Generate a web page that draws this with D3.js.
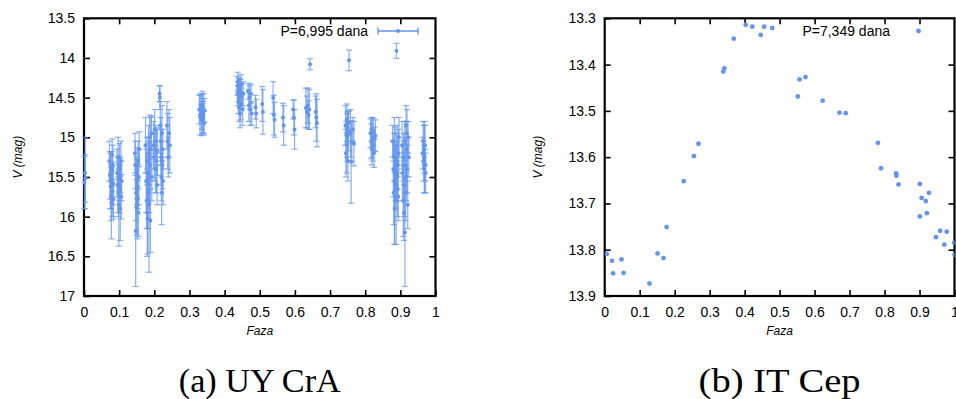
<!DOCTYPE html>
<html><head><meta charset="utf-8">
<script src="https://cdn.jsdelivr.net/npm/d3@7"></script>
<style>
html,body{margin:0;padding:0;background:#fff;}
svg{display:block;}
text{fill:#000;}
</style></head>
<body><svg id="c" width="956" height="399"></svg>
<script>
// ---------- Data: UY CrA (phase, V mag, error) ----------
const uyPhase = [
0.001,0.003,0.004,
0.072,0.074,0.075,0.076,0.077,0.078,0.079,0.080,0.081,0.082,0.083,0.084,
0.094,0.096,0.097,0.098,0.099,0.100,0.101,0.102,0.103,0.104,0.105,0.106,0.107,
0.145,0.146,0.147,0.148,0.149,0.150,0.151,0.152,0.153,0.154,0.155,0.156,0.157,
0.175,0.177,0.178,0.179,0.180,0.181,0.182,0.183,0.184,0.185,0.186,0.187,0.188,0.189,0.190,0.192,0.193,
0.198,0.200,0.201,0.203,0.204,0.206,0.208,0.209,
0.215,0.216,0.217,0.218,0.219,0.220,0.221,0.222,0.223,0.224,0.225,
0.236,0.238,0.240,0.242,0.244,
0.328,0.330,0.332,0.334,0.335,0.337,0.338,0.340,0.342,0.343,
0.436,0.437,0.438,0.439,0.440,0.441,0.442,0.443,0.444,0.445,0.446,0.447,0.449,0.451,0.453,
0.467,0.469,0.471,0.473,0.475,0.477,
0.488,0.490,
0.507,0.509,
0.538,0.540,0.542,
0.566,0.568,
0.595,0.597,0.599,
0.631,0.634,0.637,0.639,0.641,0.643,
0.659,0.661,0.663,
0.744,0.745,0.746,0.747,0.748,0.749,0.750,0.751,0.752,0.753,0.754,
0.758,0.760,0.762,0.765,0.768,
0.815,0.817,0.818,0.819,0.820,0.822,0.823,0.825,0.827,0.829,
0.878,0.880,0.881,0.882,0.883,0.884,0.885,0.886,0.887,0.888,0.889,0.889,0.890,0.891,0.892,0.893,0.894,0.895,0.896,
0.905,0.906,0.908,0.909,0.910,0.911,0.912,0.913,0.914,0.915,0.916,0.917,0.918,0.919,0.920,0.921,0.922,0.924,
0.963,0.965,0.966,0.967,0.968,0.969,0.970,0.971,0.972
];
const uyMag = [
15.57,15.45,15.52,
15.30,15.48,15.55,15.62,15.75,15.83,15.40,15.22,15.68,15.35,15.58,15.78,
15.45,15.60,15.25,15.70,15.85,15.52,15.38,15.65,15.90,15.48,15.30,15.75,15.55,
15.20,15.35,16.18,15.70,15.88,15.55,15.45,15.78,15.62,15.30,15.95,15.50,15.15,
15.10,15.55,15.80,15.30,15.95,16.02,15.70,15.20,15.45,15.85,15.60,15.00,15.35,16.05,15.15,14.95,15.50,
15.10,15.25,14.90,15.40,15.05,15.30,15.60,15.18,
14.45,14.50,14.85,15.05,15.25,15.50,15.70,14.95,15.35,15.15,15.55,
14.85,15.05,15.25,14.95,15.10,
14.65,14.72,14.60,14.78,14.68,14.62,14.75,14.70,14.82,14.66,
14.35,14.45,14.30,14.55,14.40,14.62,14.38,14.50,14.70,14.42,14.58,14.33,14.48,14.65,14.45,
14.42,14.60,14.50,14.65,14.45,14.70,
14.62,14.70,
14.58,14.68,
14.50,14.72,14.78,
14.75,14.85,
14.65,14.75,14.90,
14.63,14.68,14.60,14.72,14.65,14.08,
14.68,14.75,14.82,
14.85,15.20,14.95,15.25,14.78,15.00,14.88,15.30,14.92,14.82,14.03,
14.95,15.31,15.05,14.90,15.08,
14.95,15.05,14.90,15.15,15.00,15.10,14.93,15.20,15.02,14.98,
15.05,15.40,15.70,15.25,15.55,15.90,15.15,15.45,15.60,15.80,13.91,15.30,15.50,15.10,15.65,15.35,15.75,15.20,15.00,
15.10,15.45,15.80,15.25,15.95,15.60,15.05,16.20,15.35,15.70,14.85,15.50,15.15,14.95,15.40,15.85,15.00,15.25,
15.20,15.05,15.30,15.15,15.40,15.25,15.10,15.35,15.45
];
const uyErr = [
0.33,0.45,0.30,
0.25,0.30,0.35,0.28,0.30,0.45,0.22,0.20,0.32,0.25,0.27,0.25,
0.30,0.35,0.25,0.30,0.52,0.28,0.30,0.30,0.40,0.22,0.25,0.28,0.25,
0.25,0.30,0.70,0.35,0.35,0.30,0.32,0.50,0.28,0.25,0.30,0.35,0.22,
0.35,0.40,0.35,0.30,0.55,0.45,0.45,0.35,0.38,0.85,0.35,0.28,0.30,0.40,0.40,0.22,0.30,
0.30,0.30,0.25,0.30,0.20,0.40,0.25,0.30,
0.10,0.15,0.30,0.30,0.35,0.30,0.40,0.35,0.30,0.25,0.30,
0.30,0.35,0.25,0.30,0.35,
0.18,0.25,0.15,0.20,0.22,0.20,0.20,0.25,0.15,0.15,
0.12,0.15,0.12,0.15,0.15,0.18,0.12,0.20,0.18,0.15,0.20,0.12,0.15,0.20,0.15,
0.10,0.20,0.15,0.20,0.12,0.15,
0.15,0.18,
0.22,0.28,
0.20,0.25,0.22,
0.18,0.25,
0.12,0.22,0.25,
0.25,0.20,0.22,0.18,0.25,0.07,
0.20,0.30,0.30,
0.25,0.30,0.15,0.20,0.20,0.30,0.20,0.25,0.25,0.15,0.13,
0.30,0.52,0.25,0.15,0.28,
0.18,0.22,0.15,0.20,0.25,0.20,0.17,0.18,0.15,0.20,
0.20,0.35,0.40,0.30,0.80,0.45,0.28,0.35,0.30,0.55,0.095,0.35,0.30,0.25,0.35,0.30,0.30,0.30,0.25,
0.30,0.35,0.45,0.30,0.35,0.40,0.25,0.68,0.35,0.35,0.25,0.30,0.35,0.30,0.30,0.30,0.20,0.25,
0.20,0.25,0.25,0.30,0.30,0.45,0.25,0.20,0.25
];

// ---------- Data: IT Cep (phase, V mag) ----------
const itPhase = [0.006,0.021,0.048,0.024,0.054,0.128,0.151,0.168,0.177,0.226,0.255,0.268,
0.339,0.342,0.369,0.403,0.422,0.446,0.456,0.479,
0.552,0.557,0.574,0.623,0.671,0.689,
0.781,0.790,0.833,0.834,0.840,0.901,0.906,0.918,0.921,0.901,0.927,
0.947,0.959,0.971,0.978,0.999,1.000];
const itMag = [13.809,13.824,13.821,13.851,13.850,13.873,13.808,13.818,13.751,13.652,13.598,13.571,
13.415,13.408,13.344,13.314,13.318,13.336,13.318,13.321,
13.469,13.432,13.427,13.478,13.504,13.505,
13.569,13.624,13.635,13.640,13.659,13.658,13.688,13.695,13.721,13.728,13.677,
13.773,13.759,13.789,13.761,13.785,13.811];

// ---------- Ticks / labels ----------
const xTicks = [0,0.1,0.2,0.3,0.4,0.5,0.6,0.7,0.8,0.9,1];
const yTicksA = [13.5,14,14.5,15,15.5,16,16.5,17];
const yTicksB = [13.3,13.4,13.5,13.6,13.7,13.8,13.9];
const legendA = "P=6,995 dana";
const legendB = "P=7,349 dana";
const captionA = "(a) UY CrA";
const captionB = "(b) IT Cep";
const xLabel = "Faza";

const blue = "#6495ED";
const sans = '"Liberation Sans",Arial,sans-serif';
const serif = '"Liberation Serif","DejaVu Serif",serif';
const svg = d3.select("#c");

function panel(opt){
  const g = svg.append("g");
  const x = d3.scaleLinear().domain([0,1]).range([opt.x0,opt.x1]);
  const y = d3.scaleLinear().domain(opt.ydom).range([opt.y0,opt.y1]);
  const tl = 6;
  const ax = g.append("g").attr("transform",`translate(0,${opt.y1})`)
    .call(d3.axisBottom(x).tickValues(xTicks).tickSizeInner(-tl).tickSizeOuter(0).tickPadding(10)
      .tickFormat(d=>d3.format("")(d)));
  const ay = g.append("g").attr("transform",`translate(${opt.x0},0)`)
    .call(d3.axisLeft(y).tickValues(opt.yticks).tickSizeInner(-tl).tickSizeOuter(0).tickPadding(9)
      .tickFormat(d=>d3.format("")(d)));
  const at = g.append("g").attr("transform",`translate(0,${opt.y0})`)
    .call(d3.axisTop(x).tickValues(xTicks.filter(d=>d>0&&d<1)).tickSizeInner(-tl).tickSizeOuter(0).tickFormat(""));
  const ar = g.append("g").attr("transform",`translate(${opt.x1},0)`)
    .call(d3.axisRight(y).tickValues(opt.yticks.slice(1,-1)).tickSizeInner(-tl).tickSizeOuter(0).tickFormat(""));
  [ax,ay,at,ar].forEach(a=>{
    a.select(".domain").remove();
    a.selectAll("line").attr("stroke","#000").attr("stroke-width",1.6);
    a.selectAll("text").style("font-size","14px").style("font-family",sans).attr("fill","#000");
  });
  ax.selectAll("text").attr("dy","0.75em");
  g.append("rect").attr("x",opt.x0).attr("y",opt.y0).attr("width",opt.x1-opt.x0).attr("height",opt.y1-opt.y0)
    .attr("fill","none").attr("stroke","#000").attr("stroke-width",2.2);
  g.append("text").attr("x",(opt.x0+opt.x1)/2).attr("y",335).attr("text-anchor","middle")
    .style("font-family",sans).style("font-size","12px").style("font-style","italic").text(xLabel);
  const yl = g.append("text").attr("transform",`translate(${opt.ylx},${(opt.y0+opt.y1)/2}) rotate(-90)`)
    .attr("text-anchor","middle").style("font-family",sans).style("font-size","12px").style("font-style","italic");
  yl.append("tspan").text("V ");
  yl.append("tspan").text("(mag)");
  g.append("text").attr("x",(opt.x0+opt.x1)/2).attr("y",392).attr("text-anchor","middle")
    .style("font-family",serif).style("font-size","33px")
    .attr("textLength",opt.capLen).attr("lengthAdjust","spacingAndGlyphs").text(opt.caption);
  g.append("text").attr("x",opt.legX).attr("y",36).attr("text-anchor","end")
    .style("font-family",sans).style("font-size","14px").text(opt.legend);
  return {g,x,y};
}

// Panel A
const A = panel({x0:84,x1:435.5,y0:18.3,y1:296,ydom:[13.5,17],yticks:yTicksA,ylx:22,
  caption:captionA,capLen:162,legend:legendA,legX:368});
const dA = uyPhase.map((p,i)=>({p,m:uyMag[i],e:uyErr[i]}));
const eb = A.g.append("g").attr("stroke",blue).attr("stroke-width",1.2).attr("stroke-opacity",0.75).attr("fill","none");
const cw = 3;
dA.forEach(d=>{
  const xx=A.x(d.p), yt=A.y(d.m-d.e), yb=A.y(d.m+d.e);
  eb.append("line").attr("x1",xx).attr("x2",xx).attr("y1",yt).attr("y2",yb);
  eb.append("line").attr("x1",xx-cw).attr("x2",xx+cw).attr("y1",yt).attr("y2",yt);
  eb.append("line").attr("x1",xx-cw).attr("x2",xx+cw).attr("y1",yb).attr("y2",yb);
});
A.g.append("g").selectAll("circle").data(dA).join("circle")
  .attr("cx",d=>A.x(d.p)).attr("cy",d=>A.y(d.m)).attr("r",2).attr("fill",blue);
const lg = A.g.append("g").attr("stroke",blue).attr("stroke-width",1.4);
lg.append("line").attr("x1",378).attr("x2",418).attr("y1",31).attr("y2",31);
lg.append("line").attr("x1",378).attr("x2",378).attr("y1",27.5).attr("y2",34.5);
lg.append("line").attr("x1",418).attr("x2",418).attr("y1",27.5).attr("y2",34.5);
A.g.append("circle").attr("cx",398).attr("cy",31).attr("r",2).attr("fill",blue);

// Panel B
const B = panel({x0:604.7,x1:954.5,y0:18.3,y1:296,ydom:[13.3,13.9],yticks:yTicksB,ylx:542,
  caption:captionB,capLen:162,legend:legendB,legX:890});
const dB = itPhase.map((p,i)=>({p,m:itMag[i]}));
svg.append("clipPath").attr("id","clipB").append("rect")
  .attr("x",604.7).attr("y",18.3).attr("width",349.8).attr("height",277.7);
B.g.append("g").attr("clip-path","url(#clipB)").selectAll("circle").data(dB).join("circle")
  .attr("cx",d=>B.x(d.p)).attr("cy",d=>B.y(d.m)).attr("r",2.4).attr("fill",blue);
B.g.append("circle").attr("cx",918.5).attr("cy",31).attr("r",2.4).attr("fill",blue);
</script></body></html>
